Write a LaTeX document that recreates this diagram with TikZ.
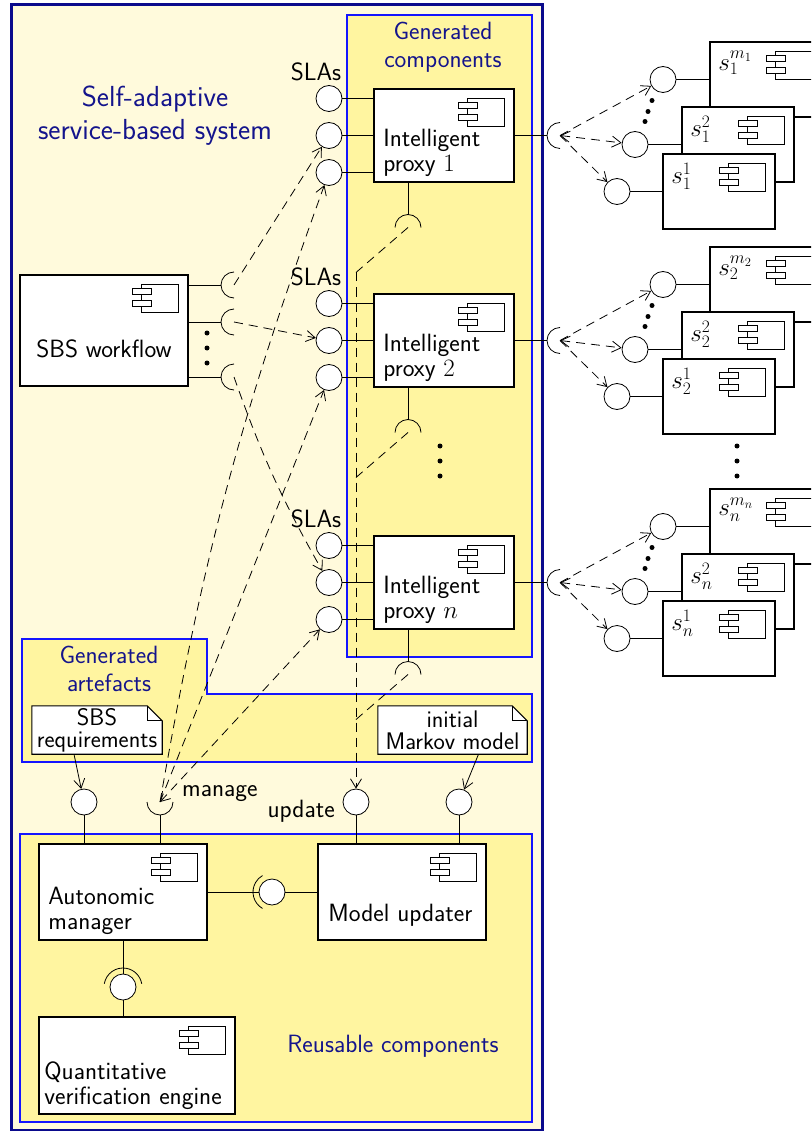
\RequirePackage{fix-cm}
\documentclass[tikz,border=0pt]{standalone}
\renewcommand{\familydefault}{\sfdefault}
\usetikzlibrary{calc,arrows.meta}

\definecolor{paleyellow}{RGB}{255,250,220}
\definecolor{genyellow}{RGB}{255,245,160}
\definecolor{grpblue}{RGB}{20,20,255}
\definecolor{navy}{RGB}{10,10,140}
\definecolor{labelblue}{RGB}{20,20,140}

\tikzset{
  comp/.style={rectangle, draw, fill=white, line width=1.6pt, inner sep=0pt},
  proxy/.style={comp, minimum width=140pt, minimum height=93pt},
  svc/.style={comp, minimum width=112pt, minimum height=75pt},
  ball/.style={circle, draw, fill=white, line width=0.8pt, minimum size=26pt, inner sep=0pt},
  link/.style={line width=0.8pt},
  dashline/.style={link, dash pattern=on 9pt off 6pt},
  dep/.style={dashline, ->},
  grp/.style={draw=grpblue, line width=1.5pt, fill=genyellow},
  grplabel/.style={text=labelblue, align=center, font=\fontsize{25}{28}\selectfont},
  txt/.style={align=left, anchor=south west, inner sep=0pt},
  icon/.style={line width=0.7pt},
  notebg/.style={rectangle, inner sep=0pt},
  notetxt/.style={align=center, font=\fontsize{24}{22}\selectfont}
}

% UML component icon in the top right corner of a node
\newcommand{\compicon}[1]{%
  \draw[icon] ($(#1.north east)+(-47,10)$) rectangle ++(37,28);
  \filldraw[icon, fill=white] ($(#1.north east)+(-56,14)$) rectangle ++(19,6);
  \filldraw[icon, fill=white] ($(#1.north east)+(-56,26)$) rectangle ++(19,6);}
% required interface (socket)
\newcommand{\sock}[4][13]{%
  \draw[link] ($(#2)+(#3:#1)$) arc[start angle=#3, end angle=#4, radius=#1];}
% note with folded corner
\newcommand{\notebox}[1]{%
  \filldraw[link, line width=1.1pt, fill=white] (#1.north west) -- ($(#1.north east)+(-15,0)$)
    -- ($(#1.north east)+(0,15)$) -- (#1.south east) -- (#1.south west) -- cycle;
  \draw[link, line width=1.1pt] ($(#1.north east)+(-15,0)$) -- ($(#1.north east)+(-15,15)$)
    -- ($(#1.north east)+(0,15)$);}

\begin{document}
\begin{tikzpicture}[x=1pt,y=-1pt, font=\fontsize{25}{25}\selectfont,
  >={Straight Barb[length=9pt,width=11pt]}]
\useasboundingbox (0,0) rectangle (811,1131);
\clip (0,0) rectangle (811,1131);

% the system
\filldraw[fill=paleyellow, draw=navy, line width=3pt] (11,5) rectangle (542,1130);
\node[text=labelblue, align=center, font=\fontsize{29}{33}\selectfont] (title) at (155,116)
  {Self-adaptive\\service-based system};

% groups
\draw[grp] (347,15) rectangle (532,657);
\node[grplabel] (gencomp) at (443,47) {Generated\\components};
\draw[grp] (22,639) -- (207,639) -- (207,694) -- (532,694) -- (532,762) -- (22,762) -- cycle;
\node[grplabel] (genart) at (109,669) {Generated\\artefacts};
\draw[grp] (20,834) rectangle (532,1122);
\node[grplabel] (reuse) at (393,1046) {Reusable components};

% intelligent proxies and their services
\foreach \i/\y in {1/135.5,2/340.5,n/582.5}{
  \node[proxy] (p\i) at (444,\y) {};
  \compicon{p\i}
  \node[txt] (p\i-txt) at ($(p\i.south west)+(10,-6)$) {Intelligent\\proxy $\i$};
  \node[ball] (p\i-a) at (329,\y-37) {};
  \node[ball] (p\i-b) at (329,\y) {};
  \node[ball] (p\i-c) at (329,\y+37) {};
  \node (p\i-sla) at (316,\y-63.5) {SLAs};
  \foreach \k in {a,b,c}
    \draw[link] (p\i-\k) -- (p\i-\k -| p\i.west);
  \coordinate (p\i-s) at (408,\y+92);
  \draw[link] (p\i.south -| p\i-s) -- ($(p\i-s)+(0,-13)$);
  \sock{p\i-s}{180}{360}
  \coordinate (j\i) at (356,\y+137);
  \draw[dashline] (p\i-s) -- (j\i);
  \coordinate (r\i) at (560,\y);
  \draw[link] (p\i.east) -- ($(r\i)+(-13,0)$);
  \sock{r\i}{90}{270}
  \foreach \k/\sx/\sy/\bx/\lab in {m/766/-56/663/m_{\i},2/738/+9/635/2,1/719/+56/617/1}{
    \node[svc] (s\i-\k) at (\sx,\y\sy) {};
    \compicon{s\i-\k}
    \node[txt, anchor=north west] (s\i-\k-txt) at ($(s\i-\k.north west)+(9,10)$) {$s_{\i}^{\lab}$};
    \node[ball] (s\i-\k-b) at (\bx,\y\sy) {};
    \draw[link] (s\i-\k-b) -- (s\i-\k-b -| s\i-\k.west);
  }
  \foreach \dx/\dy in {652/-35,648/-24,645/-14}
    \fill (\dx,\y\dy) circle (2.5);
  \draw[dep] (r\i) -- (s\i-m-b);
  \draw[dep, <->] (r\i) -- (s\i-2-b);
  \draw[dep] (r\i) -- (s\i-1-b);
}
\foreach \y in {446,461,476}{
  \fill (440,\y) circle (2.5);
  \fill (737,\y) circle (2.5);
}

% workflow
\node[comp, minimum width=168pt, minimum height=111pt] (wf) at (104,330.5) {};
\compicon{wf}
\node (wf-txt) at (104,349) {SBS workflow};
\foreach \y [count=\k] in {285,322,377}{
  \coordinate (w\k) at (234,\y);
  \draw[link] (wf.east |- w\k) -- ($(w\k)+(-13,0)$);
  \sock{w\k}{90}{270}
}
\foreach \y in {333,348,363}
  \fill (207,\y) circle (2.5);

% reusable components
\node[comp, minimum width=168pt, minimum height=96pt] (am) at (123,892) {};
\compicon{am}
\node[txt] (am-txt) at ($(am.south west)+(10,-6)$) {Autonomic\\manager};
\node[comp, minimum width=168pt, minimum height=96pt] (mu) at (402,892) {};
\compicon{mu}
\node[txt] (mu-txt) at ($(mu.south west)+(11,-14)$) {Model updater};
\node[comp, minimum width=196pt, minimum height=97pt] (qve) at (137,1065.5) {};
\compicon{qve}
\node[txt] (qve-txt) at ($(qve.south west)+(6,-5)$) {Quantitative\\verification engine};

\node[ball] (amu) at (272,892) {};
\draw[link] (am.east) -- (amu) -- (mu.west);
\sock[19]{amu}{120}{240}
\node[ball] (aqv) at (123,987) {};
\draw[link] (am.south) -- (aqv) -- (aqv |- qve.north);
\sock[19]{aqv}{190}{350}

% interfaces of the reusable components
\node[ball] (req) at (84,802) {};
\coordinate (mng) at (160,802);
\node[ball] (upd) at (356,802) {};
\node[ball] (mkv) at (459,802) {};
\sock{mng}{0}{180}
\node[anchor=west, inner sep=0pt] (mng-txt) at (182,794) {manage};
\node[anchor=east, inner sep=0pt] (upd-txt) at (335,811) {update};
\draw[link] (req) -- (req |- am.north);
\draw[link] ($(mng)+(0,13)$) -- (mng |- am.north);
\draw[link] (upd) -- (upd |- mu.north);
\draw[link] (mkv) -- (mkv |- mu.north);

% generated artefacts
\node[notebg, minimum width=130pt, minimum height=48pt] (reqnote) at (97,730) {};
\notebox{reqnote}
\node[notetxt] (reqnote-txt) at (reqnote) {SBS\\requirements};
\draw[link, ->] ([xshift=-23pt]reqnote.south) -- (req);
\node[notebg, minimum width=149pt, minimum height=48pt] (mknote) at (452.5,730) {};
\notebox{mknote}
\node[notetxt] (mknote-txt) at (mknote) {initial\\Markov model};
\draw[link, ->] ([xshift=26pt]mknote.south) -- (mkv);

% bindings
\draw[dep] (w1) -- (p1-b);
\draw[dep] (w2) -- (p2-b);
\draw[dep] (w3) to[bend right=5] (pn-b);
\draw[dep] (mng) to[bend left=5] (p1-c);
\draw[dep] (mng) -- (p2-c);
\draw[dep, <->] (mng) -- (pn-c);
\draw[dep] (j1) -- (upd);
\end{tikzpicture}
\end{document}
